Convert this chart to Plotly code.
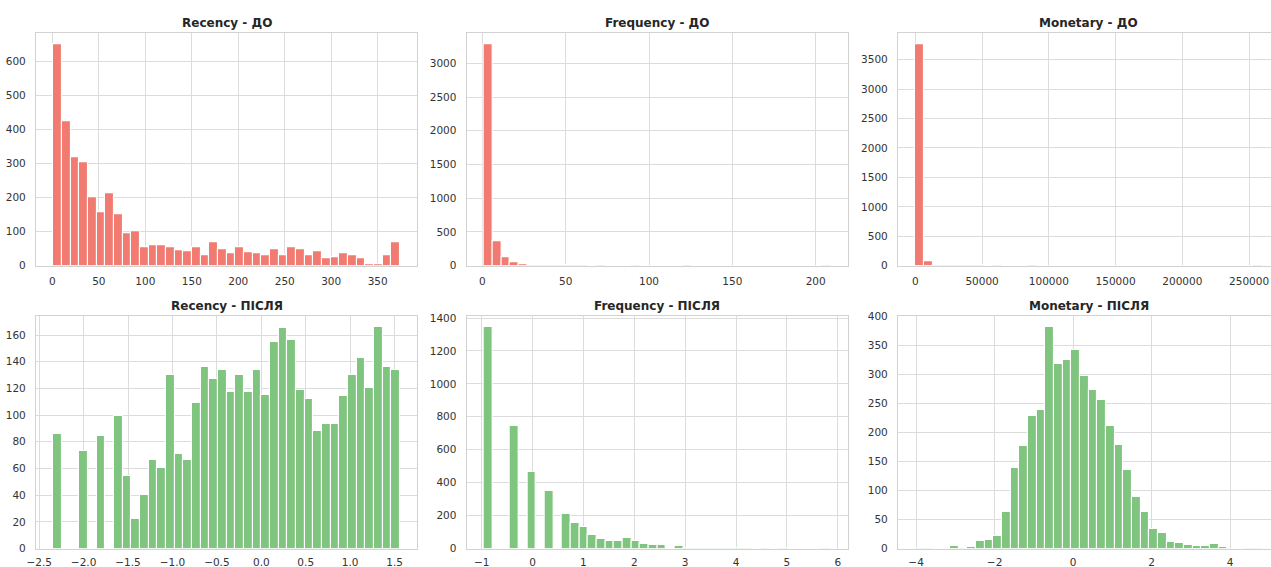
import plotly.graph_objects as go

# ---------------------------------------------------------------
# RFM distributions before and after the transform (40-bin histograms)
# ---------------------------------------------------------------
titles = ["Recency - ДО", "Frequency - ДО", "Monetary - ДО",
          "Recency - ПІСЛЯ", "Frequency - ПІСЛЯ", "Monetary - ПІСЛЯ"]

# bin range [min, max] of each feature
recency_before_range = (1, 374)
frequency_before_range = (1, 209)
monetary_before_range = (0, 259657)
recency_after_range = (-2.341, 1.561)
frequency_after_range = (-0.953, 5.859)
monetary_after_range = (-4.019, 4.813)

# counts per bin
recency_before = [651, 424, 320, 304, 202, 157, 214, 152, 97, 102,
                  54, 59, 61, 53, 47, 42, 55, 31, 70, 49,
                  38, 53, 40, 38, 31, 49, 31, 53, 49, 31,
                  42, 21, 26, 37, 30, 21, 4, 4, 30, 68]
frequency_before = [3283, 367, 119, 50, 20, 6, 4, 3, 2, 1,
                    1, 1, 0, 1, 0, 0, 0, 1, 0, 0,
                    0, 0, 0, 1, 0, 0, 0, 0, 0, 0,
                    0, 0, 0, 0, 0, 0, 0, 0, 0, 1]
monetary_before = [3761, 80, 12, 5, 3, 2, 1, 1, 0, 1,
                   0, 0, 0, 1, 0, 0, 0, 0, 0, 0,
                   0, 0, 0, 0, 0, 0, 0, 0, 0, 0,
                   0, 0, 0, 0, 0, 0, 0, 0, 0, 1]
recency_after = [86, 0, 0, 73, 0, 84, 0, 99, 54, 22,
                 40, 66, 60, 130, 71, 66, 109, 136, 127, 134,
                 117, 130, 117, 134, 115, 155, 165, 156, 119, 112,
                 88, 93, 93, 114, 130, 143, 120, 166, 136, 134]
frequency_after = [1345, 0, 0, 743, 0, 463, 0, 347, 0, 211,
                   155, 129, 85, 59, 45, 45, 65, 43, 28, 24,
                   24, 0, 18, 4, 3, 2, 3, 1, 2, 1,
                   1, 0, 1, 0, 1, 0, 0, 0, 0, 1]
monetary_after = [1, 1, 0, 0, 4, 1, 2, 13, 15, 22,
                  62, 138, 177, 228, 238, 381, 317, 325, 341, 297,
                  272, 255, 211, 178, 135, 88, 62, 34, 27, 12,
                  9, 6, 5, 4, 8, 2, 0, 0, 1, 1]

# tick marks of every panel
recency_before_ticks = [0, 50, 100, 150, 200, 250, 300, 350]
frequency_before_ticks = [0, 50, 100, 150, 200]
monetary_before_ticks = [0, 50000, 100000, 150000, 200000, 250000]
recency_after_ticks = [-2.5, -2.0, -1.5, -1.0, -0.5, 0.0, 0.5, 1.0, 1.5]
frequency_after_ticks = [-1, 0, 1, 2, 3, 4, 5, 6]
monetary_after_ticks = [-4, -2, 0, 2, 4]

recency_before_yticks = [0, 100, 200, 300, 400, 500, 600]
frequency_before_yticks = [0, 500, 1000, 1500, 2000, 2500, 3000]
monetary_before_yticks = [0, 500, 1000, 1500, 2000, 2500, 3000, 3500]
recency_after_yticks = [0, 20, 40, 60, 80, 100, 120, 140, 160]
frequency_after_yticks = [0, 200, 400, 600, 800, 1000, 1200, 1400]
monetary_after_yticks = [0, 50, 100, 150, 200, 250, 300, 350, 400]

# (counts, bin range, x ticks, y ticks, decimals shown on x tick labels)
panels = [
    (recency_before, recency_before_range, recency_before_ticks, recency_before_yticks, 0),
    (frequency_before, frequency_before_range, frequency_before_ticks, frequency_before_yticks, 0),
    (monetary_before, monetary_before_range, monetary_before_ticks, monetary_before_yticks, 0),
    (recency_after, recency_after_range, recency_after_ticks, recency_after_yticks, 1),
    (frequency_after, frequency_after_range, frequency_after_ticks, frequency_after_yticks, 0),
    (monetary_after, monetary_after_range, monetary_after_ticks, monetary_after_yticks, 0),
]

RED = "rgb(241,122,113)"
GREEN = "rgb(127,196,127)"

FIG_W, FIG_H = 1271, 567
COL_LEFT = [36, 466.7, 898]
COL_W = 381.3
ROW_TOP = [33.2, 316.0]
ROW_H = 232.5

GRID = "#dcdcdc"
FRAME = "#d2d2d2"
TICK_FONT = dict(family="DejaVu Sans", size=10.5, color="#333333")
TITLE_FONT = dict(family="DejaVu Sans", size=12, color="#262626")


def fmt_tick(v, decimals):
    s = f"{abs(v):.{decimals}f}"
    return ("\u2212" + s) if v < 0 else s


fig = go.Figure()
layout = {}

for i, (counts, (lo, hi), xt, yt, dec) in enumerate(panels):
    row, col = divmod(i, 3)
    n = len(counts)
    w = (hi - lo) / n
    centers = [lo + (k + 0.5) * w for k in range(n)]
    color = RED if row == 0 else GREEN
    ax = "" if i == 0 else str(i + 1)

    fig.add_trace(go.Bar(
        x=centers, y=counts, width=[w] * n,
        marker=dict(color=color, line=dict(color="white", width=1.1)),
        xaxis="x" + ax, yaxis="y" + ax, showlegend=False,
        hoverinfo="x+y",
    ))

    # matplotlib-like 5% margins around the data span
    span = hi - lo
    x0, x1 = lo - 0.05 * span, hi + 0.05 * span
    left = COL_LEFT[col]
    right = left + COL_W
    if right > FIG_W:
        frac = (FIG_W - left) / COL_W
        x1 = x0 + (x1 - x0) * frac
        right = FIG_W
    top = ROW_TOP[row]
    bottom = top + ROW_H

    layout["xaxis" + ax] = dict(
        domain=[left / FIG_W, right / FIG_W],
        anchor="y" + ax,
        range=[x0, x1],
        automargin=False,
        tickvals=xt,
        ticktext=[fmt_tick(v, dec) for v in xt],
        showgrid=True, gridcolor=GRID, gridwidth=1.2,
        zeroline=False,
        showline=True, mirror=True, linecolor=FRAME, linewidth=1.3,
        ticks="outside", ticklen=6 if row == 0 else 4,
        tickcolor="rgba(0,0,0,0)",
        tickfont=TICK_FONT,
    )
    layout["yaxis" + ax] = dict(
        domain=[1 - bottom / FIG_H, 1 - top / FIG_H],
        anchor="x" + ax,
        range=[0, max(counts) * 1.05],
        automargin=False,
        tickvals=yt,
        ticktext=[str(v) for v in yt],
        showgrid=True, gridcolor=GRID, gridwidth=1.2,
        zeroline=False,
        showline=True, mirror=(col < 2), linecolor=FRAME, linewidth=1.3,
        ticks="outside", ticklen=7, tickcolor="rgba(0,0,0,0)",
        tickfont=TICK_FONT,
    )

annotations = []
for i, t in enumerate(titles):
    row, col = divmod(i, 3)
    cx = COL_LEFT[col] + COL_W / 2
    cy = ROW_TOP[row] - 10
    annotations.append(dict(
        text="<b>" + t + "</b>", x=cx / FIG_W, y=1 - cy / FIG_H,
        xref="paper", yref="paper", xanchor="center", yanchor="middle",
        showarrow=False, font=TITLE_FONT,
    ))

fig.update_layout(
    template="none",
    width=FIG_W, height=FIG_H,
    margin=dict(l=0, r=0, t=0, b=0),
    paper_bgcolor="white", plot_bgcolor="white",
    annotations=annotations,
    bargap=0,
    **layout,
)

fig.write_html("out.html", config={"displayModeBar": False})
